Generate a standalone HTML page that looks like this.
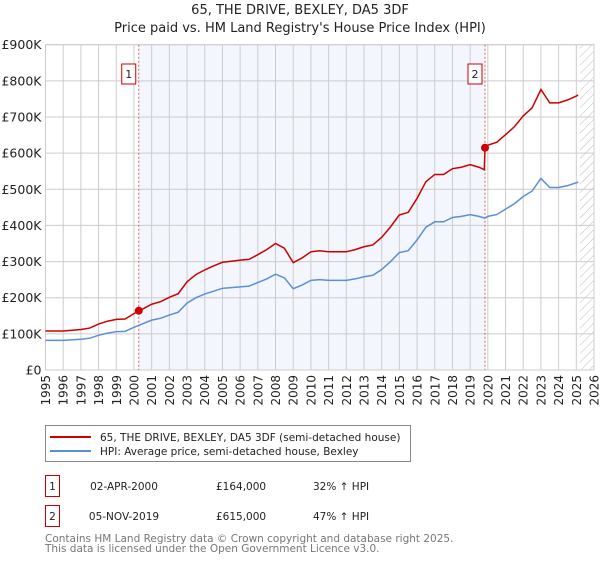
<!DOCTYPE html>
<html><head><meta charset="utf-8"><style>
body{margin:0;background:#fff;font-family:"Liberation Sans","DejaVu Sans",sans-serif;}
svg text{font-family:"DejaVu Sans","Liberation Sans",sans-serif;}
</style></head><body>
<svg id="c" width="600" height="560" xmlns="http://www.w3.org/2000/svg">
<defs><pattern id="hatch" width="6" height="6" patternUnits="userSpaceOnUse" patternTransform="rotate(45)"><line x1="0" y1="0" x2="0" y2="6" stroke="#bbb" stroke-width="1"/></pattern></defs>
<text x="300" y="14" text-anchor="middle" font-size="13" fill="#222">65, THE DRIVE, BEXLEY, DA5 3DF</text>
<text x="300" y="32" text-anchor="middle" font-size="13" fill="#222">Price paid vs. HM Land Registry's House Price Index (HPI)</text>
<g id="plot"></g>
<g>
<rect x="45.5" y="425.5" width="365" height="36" fill="#fff" stroke="#888"/>
<line x1="50" y1="437" x2="91" y2="437" stroke="#cc0000" stroke-width="2"/>
<text x="100" y="441" font-size="10.5" fill="#222">65, THE DRIVE, BEXLEY, DA5 3DF (semi-detached house)</text>
<line x1="50" y1="451" x2="91" y2="451" stroke="#5b8fd4" stroke-width="2"/>
<text x="100" y="455" font-size="10.5" fill="#222">HPI: Average price, semi-detached house, Bexley</text>
</g>
<g font-size="10.5" fill="#222">
<rect x="45.5" y="475.5" width="14" height="21" fill="#fff" stroke="#cc0000"/>
<text x="52.5" y="490" text-anchor="middle">1</text>
<text x="124" y="490" text-anchor="middle">02-APR-2000</text>
<text x="216" y="490">£164,000</text>
<text x="313" y="490">32% ↑ HPI</text>
<rect x="45.5" y="505.5" width="14" height="21" fill="#fff" stroke="#cc0000"/>
<text x="52.5" y="520" text-anchor="middle">2</text>
<text x="124" y="520" text-anchor="middle">05-NOV-2019</text>
<text x="216" y="520">£615,000</text>
<text x="313" y="520">47% ↑ HPI</text>
</g>
<text x="45" y="542" font-size="10.5" fill="#777">Contains HM Land Registry data © Crown copyright and database right 2025.</text>
<text x="45" y="552" font-size="10.5" fill="#777">This data is licensed under the Open Government Licence v3.0.</text>
</svg>
<script>
const hpiDates=[1995,1996,1997,1997.5,1998,1998.5,1999,1999.5,2000,2000.5,2001,2001.5,2002,2002.5,2003,2003.5,2004,2004.5,2005,2005.5,2006,2006.5,2007,2007.5,2008,2008.5,2009,2009.5,2010,2010.5,2011,2011.5,2012,2012.5,2013,2013.5,2014,2014.5,2015,2015.5,2016,2016.5,2017,2017.5,2018,2018.5,2019,2019.5,2019.84,2020,2020.5,2021,2021.5,2022,2022.5,2023,2023.5,2024,2024.5,2025,2025.1];
const hpiValues=[82,82,85,88,96,102,106,107,118,128,138,143,152,160,185,200,210,218,226,228,230,232,242,252,265,255,225,235,248,250,248,248,248,252,258,262,278,300,325,330,360,395,410,410,422,425,430,425,420,425,430,445,460,480,495,530,505,505,510,518,520];
const redDates=[1995,1996,1997,1997.5,1998,1998.5,1999,1999.5,2000,2000.5,2001,2001.5,2002,2002.5,2003,2003.5,2004,2004.5,2005,2005.5,2006,2006.5,2007,2007.5,2008,2008.5,2009,2009.5,2010,2010.5,2011,2011.5,2012,2012.5,2013,2013.5,2014,2014.5,2015,2015.5,2016,2016.5,2017,2017.5,2018,2018.5,2019,2019.5,2019.8,2019.84,2020,2020.5,2021,2021.5,2022,2022.5,2023,2023.5,2024,2024.5,2025,2025.1];
const redValues=[108,108,112,116,127,135,140,141,156,169,182,189,201,211,244,264,277,288,298,301,304,306,319,333,350,337,297,310,327,330,327,327,327,333,341,346,367,396,429,436,475,521,541,541,557,561,568,561,554,615,622,630,651,673,703,725,776,739,739,747,758,761];
const saleDates=[2000.27,2019.84];
const salePrices=[164,615];
const saleLabels=["1","2"];
const yTicks=[0,100,200,300,400,500,600,700,800,900];
const yTickLabels=["£0","£100K","£200K","£300K","£400K","£500K","£600K","£700K","£800K","£900K"];
const xYears=[1995,1996,1997,1998,1999,2000,2001,2002,2003,2004,2005,2006,2007,2008,2009,2010,2011,2012,2013,2014,2015,2016,2017,2018,2019,2020,2021,2022,2023,2024,2025,2026];
const hatchStart=2025.2;

const L=45.5,R=594,T=44.7,B=370;
const X=y=>L+(y-1995)/(2026-1995)*(R-L);
const Y=v=>B-v/900*(B-T);
const NS="http://www.w3.org/2000/svg";
const g=document.getElementById('plot');
function mk(t,a,p){const e=document.createElementNS(NS,t);for(const k in a)e.setAttribute(k,a[k]);(p||g).appendChild(e);return e;}

const sh=mk('rect',{x:X(saleDates[0]),y:T,width:X(saleDates[1])-X(saleDates[0]),height:B-T,fill:'#f3f6fd'});


const ht=mk('rect',{x:X(hatchStart),y:T,width:R-X(hatchStart),height:B-T,fill:'url(#hatch)'});



xYears.forEach(yr=>{const l=mk('line',{x1:X(yr),x2:X(yr),y1:T,y2:B,stroke:'#ccc','stroke-width':1});


const t=mk('text',{x:0,y:0,'font-size':'12','text-anchor':'end',fill:'#222',transform:`translate(${X(yr)+4.5},${B+5}) rotate(-90)`});t.textContent=yr;

});
yTicks.forEach((v,i)=>{const l=mk('line',{x1:L,x2:R,y1:Y(v),y2:Y(v),stroke:'#ccc','stroke-width':1});


const t=mk('text',{x:L-4,y:Y(v)+4.5,'font-size':'12.5','text-anchor':'end',fill:'#222'});t.textContent=yTickLabels[i];

});
const ax=mk('rect',{x:L,y:T,width:R-L,height:B-T,fill:'none',stroke:'#ccc'});



saleDates.forEach((d,i)=>{const l=mk('line',{x1:X(d),x2:X(d),y1:T,y2:B,stroke:'#e06060','stroke-width':1,'stroke-dasharray':'2,2'});

});

const hp=mk('polyline',{points:hpiDates.map((d,i)=>X(d)+','+Y(hpiValues[i])).join(' '),fill:'none',stroke:'#5b8fd4','stroke-width':1.5});


const rl=mk('polyline',{points:redDates.map((d,i)=>X(d)+','+Y(redValues[i])).join(' '),fill:'none',stroke:'#cc0000','stroke-width':1.5});



saleDates.forEach((d,i)=>{const c=mk('circle',{cx:X(d),cy:Y(salePrices[i]),r:4,fill:'#cc0000'});


const bx=X(d)-3-14;
const r=mk('rect',{x:bx,y:64,width:14,height:20,fill:'#fff',stroke:'#cc0000'});


const t=mk('text',{x:bx+7,y:78,'font-size':'11','text-anchor':'middle',fill:'#222'});t.textContent=saleLabels[i];

});
</script>
</body></html>
